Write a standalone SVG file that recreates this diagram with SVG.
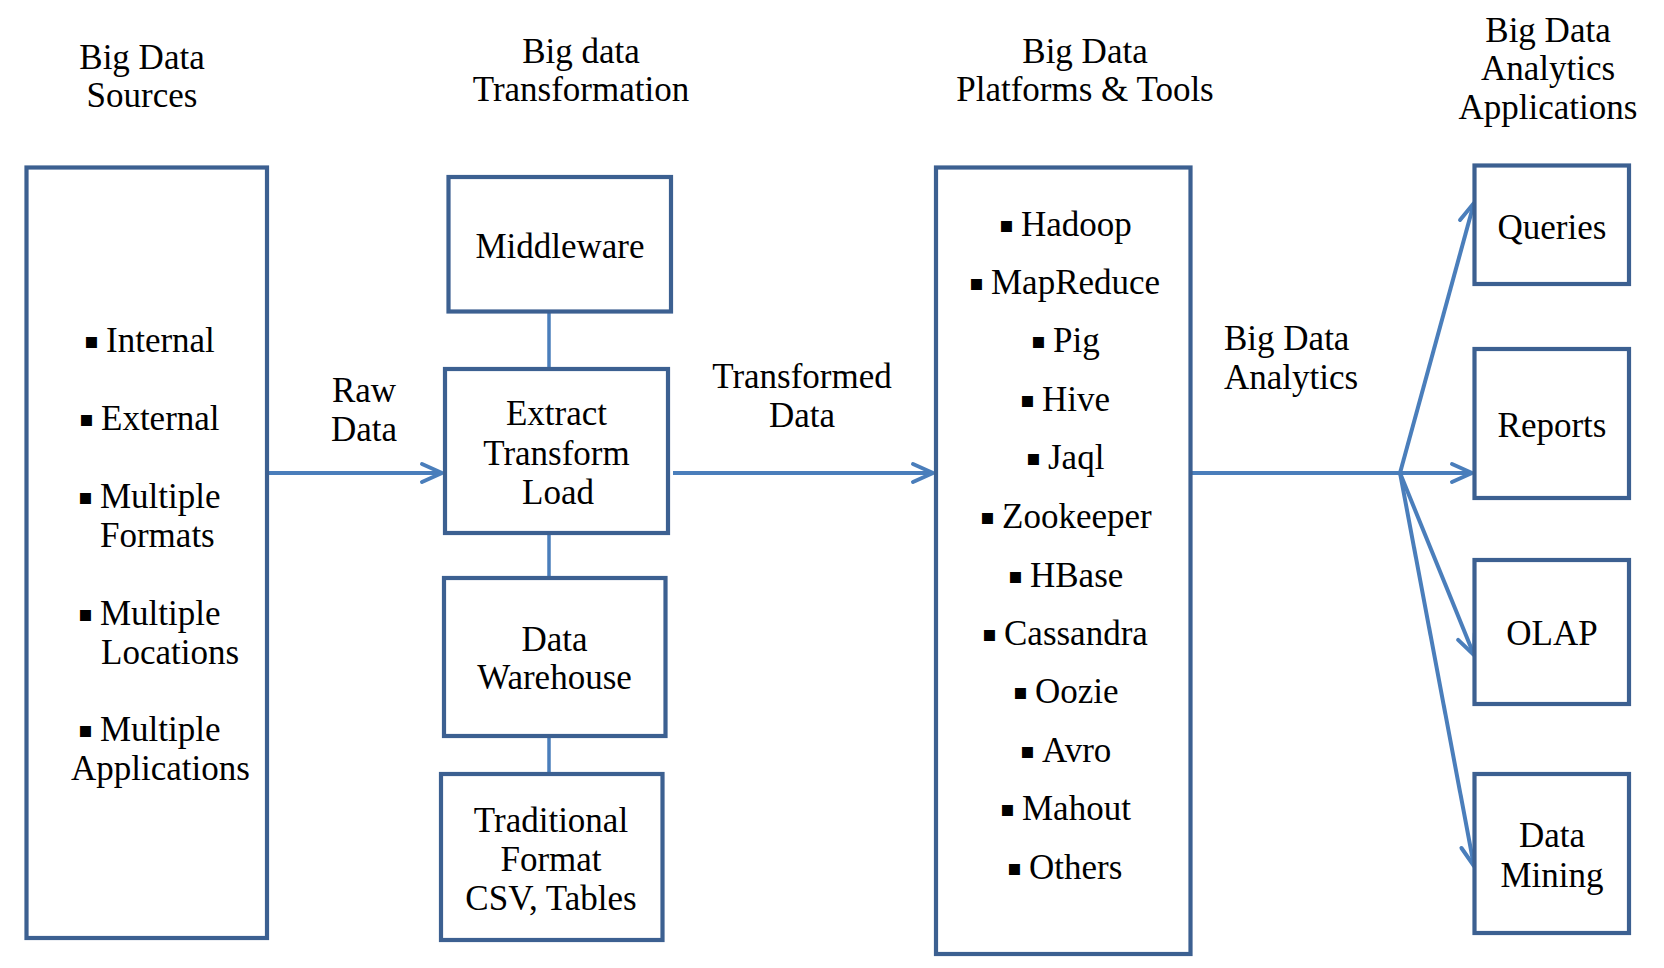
<svg xmlns="http://www.w3.org/2000/svg" width="1664" height="968" viewBox="0 0 1664 968">
<style>
.box{fill:#fff;stroke:#3C6091;stroke-width:4.2}
.t{font-family:"Liberation Serif","Times New Roman",serif;font-size:35px;fill:#000}
.m{text-anchor:middle}
.bu{font-family:"DejaVu Sans",sans-serif;font-size:22px;fill:#000}
.ln{fill:none;stroke:#4A7EBB;stroke-width:4}
.lk{fill:none;stroke:#4A7EBB;stroke-width:3.5}
</style>
<defs>
<marker id="ah" viewBox="-24 -12 28 24" refX="0" refY="0" markerWidth="28" markerHeight="24" markerUnits="userSpaceOnUse" orient="auto">
<path d="M-20,-9 L0,0 L-20,9" fill="none" stroke="#4A7EBB" stroke-width="4" stroke-linecap="round" stroke-linejoin="round"/>
</marker>
</defs>
<rect width="1664" height="968" fill="#fff"/>

<g id="titles">
<text class="t m" x="142" y="69"><tspan x="142">Big Data</tspan><tspan x="142" y="107">Sources</tspan></text>
<text class="t m" x="581" y="63"><tspan x="581">Big data</tspan><tspan x="581" y="101">Transformation</tspan></text>
<text class="t m" x="1085" y="63"><tspan x="1085">Big Data</tspan><tspan x="1085" y="101">Platforms &amp; Tools</tspan></text>
<text class="t m" x="1548" y="42"><tspan x="1548">Big Data</tspan><tspan x="1548" y="80">Analytics</tspan><tspan x="1548" y="119">Applications</tspan></text>
</g>

<g id="connectors">
<line class="lk" x1="549" y1="311" x2="549" y2="369"/>
<line class="lk" x1="549" y1="533" x2="549" y2="578"/>
<line class="lk" x1="549" y1="736" x2="549" y2="774"/>
<line class="ln" x1="267" y1="473" x2="442" y2="473" marker-end="url(#ah)"/>
<line class="ln" x1="673" y1="473" x2="933" y2="473" marker-end="url(#ah)"/>
<line class="ln" x1="1190" y1="473" x2="1472" y2="473" marker-end="url(#ah)"/>
<line class="ln" x1="1400" y1="473" x2="1474" y2="203" marker-end="url(#ah)"/>
<line class="ln" x1="1400" y1="473" x2="1474" y2="655" marker-end="url(#ah)"/>
<line class="ln" x1="1400" y1="473" x2="1474" y2="866" marker-end="url(#ah)"/>
<text class="t m" x="364" y="402"><tspan x="364">Raw</tspan><tspan x="364" y="441">Data</tspan></text>
<text class="t m" x="802" y="388"><tspan x="802">Transformed</tspan><tspan x="802" y="427">Data</tspan></text>
<text class="t" x="1224" y="350"><tspan x="1224">Big Data</tspan><tspan x="1224" y="389">Analytics</tspan></text>
</g>

<g id="sources">
<rect class="box" x="26.5" y="167.5" width="240.5" height="770.5"/>
<text class="bu" x="84" y="348">▪</text><text class="t" x="106" y="352">Internal</text>
<text class="bu" x="79" y="426">▪</text><text class="t" x="101" y="430">External</text>
<text class="bu" x="78" y="504">▪</text><text class="t" x="100" y="508"><tspan x="100">Multiple</tspan><tspan x="100" y="547">Formats</tspan></text>
<text class="bu" x="78" y="621">▪</text><text class="t" x="100" y="625"><tspan x="100">Multiple</tspan><tspan x="101" y="664">Locations</tspan></text>
<text class="bu" x="78" y="737">▪</text><text class="t" x="100" y="741"><tspan x="100">Multiple</tspan><tspan x="71" y="780">Applications</tspan></text>
</g>

<g id="middleware">
<rect class="box" x="448.5" y="177" width="222.5" height="134.5"/>
<text class="t m" x="560" y="258">Middleware</text>
</g>
<g id="etl">
<rect class="box" x="445" y="369" width="223" height="164"/>
<text class="t m" x="556.5" y="425"><tspan x="556.5">Extract</tspan><tspan x="556.5" y="465">Transform</tspan><tspan x="558" y="504">Load</tspan></text>
</g>
<g id="warehouse">
<rect class="box" x="444" y="578" width="221.5" height="158"/>
<text class="t m" x="554.5" y="651"><tspan x="554.5">Data</tspan><tspan x="554.5" y="689">Warehouse</tspan></text>
</g>
<g id="traditional">
<rect class="box" x="441" y="774" width="221.5" height="166"/>
<text class="t m" x="551" y="832"><tspan x="551">Traditional</tspan><tspan x="551" y="871">Format</tspan><tspan x="551" y="910">CSV, Tables</tspan></text>
</g>

<g id="platforms">
<rect class="box" x="936" y="167.5" width="254.5" height="786.5"/>
<text class="bu" x="999" y="232">▪</text><text class="t" x="1021" y="236">Hadoop</text>
<text class="bu" x="969" y="290">▪</text><text class="t" x="991" y="294">MapReduce</text>
<text class="bu" x="1031" y="348">▪</text><text class="t" x="1053" y="352">Pig</text>
<text class="bu" x="1020" y="407">▪</text><text class="t" x="1042" y="411">Hive</text>
<text class="bu" x="1026" y="465">▪</text><text class="t" x="1048" y="469">Jaql</text>
<text class="bu" x="980" y="524">▪</text><text class="t" x="1002" y="528">Zookeeper</text>
<text class="bu" x="1008" y="583">▪</text><text class="t" x="1030" y="587">HBase</text>
<text class="bu" x="982" y="641">▪</text><text class="t" x="1004" y="645">Cassandra</text>
<text class="bu" x="1013" y="699">▪</text><text class="t" x="1035" y="703">Oozie</text>
<text class="bu" x="1020" y="758">▪</text><text class="t" x="1042" y="762">Avro</text>
<text class="bu" x="1000" y="816">▪</text><text class="t" x="1022" y="820">Mahout</text>
<text class="bu" x="1007" y="875">▪</text><text class="t" x="1029" y="879">Others</text>
</g>

<g id="queries">
<rect class="box" x="1474.5" y="165.5" width="154.5" height="118.5"/>
<text class="t m" x="1552" y="239">Queries</text>
</g>
<g id="reports">
<rect class="box" x="1474.5" y="349" width="154.5" height="149"/>
<text class="t m" x="1552" y="437">Reports</text>
</g>
<g id="olap">
<rect class="box" x="1474.5" y="560" width="154.5" height="144"/>
<text class="t m" x="1552" y="645">OLAP</text>
</g>
<g id="mining">
<rect class="box" x="1474.5" y="774" width="154.5" height="159"/>
<text class="t m" x="1552" y="847"><tspan x="1552">Data</tspan><tspan x="1552" y="887">Mining</tspan></text>
</g>
</svg>
